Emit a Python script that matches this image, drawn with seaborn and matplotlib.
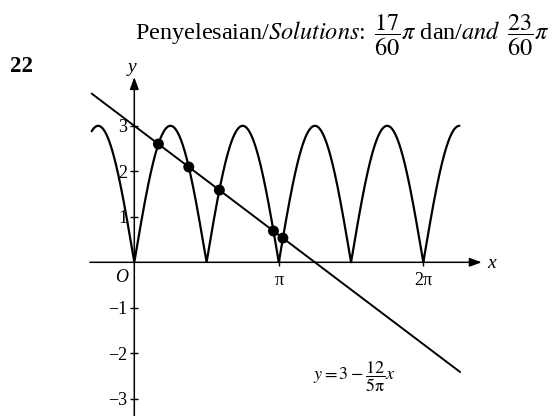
import numpy as np
import pandas as pd
import matplotlib
matplotlib.use("Agg")
import matplotlib.pyplot as plt
import seaborn as sns

# y = 3|sin 2x| and the straight line y = 3 - (12 / 5π) x
amplitude = 3
frequency = 2
line_intercept = 3
line_slope = -12 / (5 * np.pi)
curve_x_range = [-0.295 * np.pi, 2.25 * np.pi]
line_x_range = [-0.295 * np.pi, 2.255 * np.pi]

y_tick_values = [-3, -2, -1, 1, 2, 3]
y_tick_labels = ["\u22123", "\u22122", "\u22121", "1", "2", "3"]
x_tick_values = [np.pi, 2 * np.pi]
x_tick_labels = ["\u03c0", "2\u03c0"]

sns.set_theme(style="white")
plt.rcParams["font.family"] = ["Liberation Serif", "DejaVu Serif"]
plt.rcParams["mathtext.fontset"] = "stix"
plt.rcParams["text.color"] = "black"

W, H = 552, 416
fig = plt.figure(figsize=(W / 100, H / 100), dpi=100)
ax = fig.add_axes([0, 0, 1, 1])
ax.set_xlim(-0.9294 * np.pi, 2.8907 * np.pi)
ax.set_ylim(-3.378, 5.765)


def curve(x):
    return amplitude * np.abs(np.sin(frequency * x))


def line(x):
    return line_intercept + line_slope * x


# the graphs
xs = np.linspace(curve_x_range[0], curve_x_range[1], 4001)
curve_df = pd.DataFrame({"x": xs, "y": curve(xs)})
sns.lineplot(data=curve_df, x="x", y="y", color="black", lw=1.6,
             sort=False, estimator=None, ax=ax)

lx = np.array(line_x_range)
line_df = pd.DataFrame({"x": lx, "y": line(lx)})
sns.lineplot(data=line_df, x="x", y="y", color="black", lw=1.4,
             sort=False, estimator=None, ax=ax)

# intersection points: sign changes of curve - line, refined by bisection
grid = np.linspace(0, curve_x_range[1], 20001)
diff = curve(grid) - line(grid)
roots = []
for i in np.where(np.sign(diff[:-1]) != np.sign(diff[1:]))[0]:
    a, b = grid[i], grid[i + 1]
    for _ in range(60):
        m = 0.5 * (a + b)
        if np.sign(curve(a) - line(a)) == np.sign(curve(m) - line(m)):
            a = m
        else:
            b = m
    roots.append(0.5 * (a + b))
roots = np.array(roots)
sns.scatterplot(x=roots, y=line(roots), s=62, color="black",
                edgecolor="none", zorder=5, ax=ax)

# coordinate axes with arrowheads
arrow = dict(arrowstyle="-|>,head_length=0.6,head_width=0.22",
             color="black", lw=1.1, shrinkA=0, shrinkB=0)
ax.annotate("", xy=(2.404 * np.pi, 0), xytext=(-0.307 * np.pi, 0),
            arrowprops=arrow)
ax.annotate("", xy=(0, 4.07), xytext=(0, -3.5), arrowprops=arrow)

for side in ["top", "right"]:
    ax.spines[side].set_visible(False)
ax.spines["left"].set_position(("data", 0))
ax.spines["bottom"].set_position(("data", 0))
ax.spines["left"].set_color("none")
ax.spines["bottom"].set_color("none")

ax.set_yticks(y_tick_values, y_tick_labels)
ax.set_xticks(x_tick_values, x_tick_labels)
ax.tick_params(axis="both", direction="inout", length=6, width=1.0,
               color="black", labelcolor="black", labelsize=13,
               left=True, bottom=True)
ax.tick_params(axis="y", pad=2)
ax.tick_params(axis="x", pad=4)
ax.set_xlabel("")
ax.set_ylabel("")


def px_text(x, y, s, **kw):
    fig.text(x / W, 1 - y / H, s, **kw)


px_text(122, 278, "O", fontsize=13, style="italic", ha="center", va="center")
px_text(132, 67, "y", fontsize=14, style="italic", ha="center", va="center")
px_text(492, 263, "x", fontsize=14, style="italic", ha="center", va="center")
px_text(10, 67, "22", fontsize=16.5, fontweight="bold", ha="left", va="center")
px_text(135, 35,
        r"Penyelesaian/$\mathit{Solutions}$: $\,\dfrac{17}{60}\pi$ dan/$\mathit{and}$ $\,\dfrac{23}{60}\pi$",
        fontsize=17.5, ha="left", va="center")
px_text(313, 377, r"$y = 3 - \dfrac{12}{5\mathrm{\pi}}x$", fontsize=13,
        ha="left", va="center")

fig.savefig("out.png", dpi=100)
